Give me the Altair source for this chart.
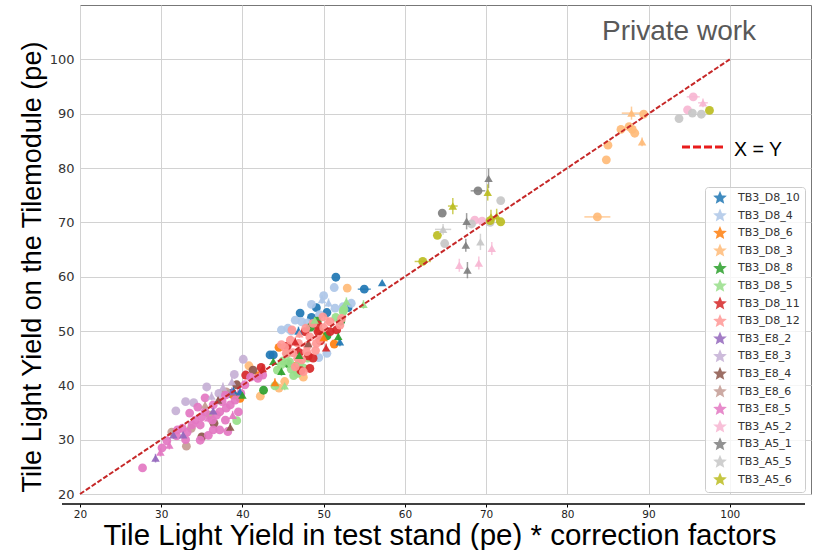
import altair as alt
import pandas as pd

SERIES = ["TB3_D8_10", "TB3_D8_4", "TB3_D8_6", "TB3_D8_3", "TB3_D8_8", "TB3_D8_5",
          "TB3_D8_11", "TB3_D8_12", "TB3_E8_2", "TB3_E8_3", "TB3_E8_4", "TB3_E8_6",
          "TB3_E8_5", "TB3_A5_2", "TB3_A5_1", "TB3_A5_5", "TB3_A5_6"]
COLORS = ["#1f77b4", "#aec7e8", "#ff7f0e", "#ffbb78", "#2ca02c", "#98df8a",
          "#d62728", "#ff9896", "#9467bd", "#c5b0d5", "#8c564b", "#c49c94",
          "#e377c2", "#f7b6d2", "#7f7f7f", "#c7c7c7", "#bcbd22"]

# (marker, x, y, xerr, yerr)
TB3_D8_10 = [("o", 51.5, 59.9, 0, 0), ("o", 55.0, 57.7, 0.8, 0), ("^", 57.2, 58.9, 0, 0),
             ("o", 49.1, 54.3, 0, 0), ("o", 47.1, 53.3, 0, 0), ("o", 50.4, 53.4, 0, 0),
             ("o", 53.0, 54.3, 0, 0), ("o", 52.1, 51.9, 0, 0), ("^", 52.0, 48.0, 0, 0.8),
             ("^", 46.9, 50.0, 0, 0.8), ("o", 43.8, 45.6, 0, 0), ("o", 38.5, 38.5, 0, 0),
             ("^", 39.7, 38.8, 0, 0.8), ("^", 38.9, 39.0, 0, 0.8), ("o", 43.4, 45.6, 0, 0),
             ("o", 48.5, 52.5, 0, 0)]
TB3_D8_4 = [("o", 51.3, 58.0, 0, 0), ("^", 50.6, 55.2, 0, 0.8), ("o", 48.5, 54.9, 0, 0),
            ("o", 52.4, 54.5, 0, 0), ("o", 53.4, 55.1, 0, 0), ("o", 51.4, 54.2, 0, 0),
            ("o", 47.3, 51.7, 0, 0), ("o", 44.8, 50.2, 0, 0), ("o", 45.6, 50.5, 0, 0),
            ("o", 49.4, 45.1, 0, 0), ("o", 50.4, 45.9, 0, 0), ("^", 49.8, 55.8, 0, 0.8),
            ("o", 46.0, 50.0, 0, 0), ("o", 48.0, 51.5, 0, 0), ("o", 49.5, 53.0, 0, 0),
            ("o", 46.5, 52.0, 0, 0), ("o", 50.0, 56.5, 0, 0)]
TB3_D8_6 = [("o", 44.5, 47.0, 0, 0), ("o", 51.3, 47.6, 0, 0), ("o", 49.5, 50.0, 0, 0),
            ("o", 39.7, 37.6, 0, 0), ("o", 38.9, 38.2, 0, 0), ("^", 50.0, 48.8, 0, 0.8),
            ("o", 46.5, 43.5, 0, 0), ("^", 44.0, 40.5, 0, 0.8), ("o", 42.0, 41.8, 0, 0)]
TB3_D8_3 = [("^", 87.9, 90.1, 1.2, 1.2), ("o", 89.4, 89.9, 0, 0), ("o", 86.6, 87.1, 0, 0),
            ("o", 87.6, 87.6, 0, 0), ("o", 88.0, 87.1, 0, 0), ("o", 88.3, 86.4, 0, 0),
            ("^", 89.2, 84.8, 0, 0.8), ("o", 85.0, 84.2, 0, 0), ("o", 84.8, 81.5, 0, 0),
            ("o", 83.7, 71.0, 1.6, 0), ("o", 52.9, 57.9, 0, 0), ("o", 45.2, 40.7, 0, 0),
            ("o", 40.8, 43.6, 0, 0), ("o", 42.2, 38.0, 0, 0), ("o", 44.5, 39.5, 0, 0),
            ("o", 47.5, 41.5, 0, 0)]
TB3_D8_8 = [("o", 50.4, 49.1, 0, 0), ("^", 43.8, 44.4, 0, 0.8), ("o", 42.6, 39.1, 0, 0),
            ("^", 40.0, 38.2, 0, 0.8), ("o", 52.1, 51.8, 0, 0), ("o", 49.2, 51.8, 0, 0),
            ("^", 47.0, 45.5, 0, 0.8), ("^", 51.8, 49.0, 0, 0.8), ("o", 45.6, 44.0, 0, 0),
            ("o", 48.4, 50.7, 0, 0), ("^", 44.8, 42.6, 0, 0.8)]
TB3_D8_5 = [("o", 52.4, 53.6, 0, 0), ("^", 52.8, 55.4, 0, 0.8), ("^", 54.9, 54.9, 0, 0.8),
            ("o", 45.0, 44.5, 0, 0), ("o", 46.0, 43.0, 0, 0), ("o", 47.0, 44.0, 0, 0),
            ("o", 44.3, 42.8, 0, 0), ("o", 45.5, 45.8, 0, 0), ("o", 46.8, 42.2, 0, 0),
            ("^", 45.2, 39.9, 0, 0.8), ("o", 39.3, 33.5, 0, 0), ("o", 44.0, 39.9, 0, 0),
            ("^", 48.9, 52.0, 0, 0.8), ("o", 51.5, 52.5, 0, 0), ("o", 45.8, 44.3, 0, 0),
            ("o", 44.8, 43.8, 0, 0), ("o", 47.5, 43.2, 0, 0), ("o", 46.3, 41.8, 0, 0),
            ("o", 52.5, 54.0, 0, 0), ("o", 48.0, 45.0, 0, 0)]
TB3_D8_11 = [("o", 47.7, 49.9, 0, 0), ("o", 48.7, 45.0, 0, 0), ("o", 48.3, 43.1, 0, 0),
             ("o", 47.2, 42.7, 0, 0), ("^", 46.5, 48.0, 0, 0.8), ("^", 50.3, 46.9, 0, 0.8),
             ("o", 51.6, 50.2, 0, 0), ("o", 50.8, 49.9, 0, 0), ("^", 42.5, 43.1, 0, 0.8),
             ("o", 40.4, 41.9, 0, 0), ("o", 48.1, 45.4, 0, 0), ("o", 49.3, 49.9, 0, 0),
             ("o", 49.3, 51.1, 0, 0), ("o", 42.3, 43.3, 0, 0), ("o", 45.5, 47.2, 0, 0),
             ("o", 49.6, 48.2, 0, 0), ("o", 47.0, 46.0, 0, 0)]
TB3_D8_12 = [("o", 45.9, 48.3, 0, 0), ("o", 46.9, 47.7, 0, 0), ("o", 47.9, 46.2, 0, 0),
             ("o", 47.3, 44.7, 0, 0), ("o", 46.5, 43.4, 0, 0), ("o", 48.7, 51.4, 0, 0),
             ("o", 49.9, 52.6, 0, 0), ("o", 50.8, 51.7, 0, 0), ("o", 52.0, 51.1, 0, 0),
             ("o", 52.2, 52.3, 0, 0), ("o", 49.1, 47.7, 0, 0), ("o", 46.1, 50.2, 0, 0),
             ("o", 48.3, 48.9, 0, 0), ("o", 45.4, 45.9, 0, 0), ("o", 47.5, 42.5, 0, 0),
             ("^", 47.0, 49.5, 0, 0.8), ("^", 50.5, 52.0, 0, 0.8), ("o", 44.8, 47.5, 0, 0),
             ("o", 46.2, 46.0, 0, 0), ("o", 48.0, 47.3, 0, 0), ("o", 49.5, 48.5, 0, 0),
             ("o", 45.2, 47.0, 0, 0), ("o", 47.8, 50.5, 0, 0), ("o", 50.0, 50.6, 0, 0),
             ("o", 46.8, 45.0, 0, 0), ("o", 49.0, 46.4, 0, 0)]
TB3_E8_2 = [("^", 29.3, 26.6, 0, 0.8), ("^", 31.5, 30.9, 0, 0.8), ("^", 32.7, 30.9, 0, 0.8),
            ("^", 36.4, 35.3, 0, 0.8), ("^", 38.7, 38.8, 0, 0.8)]
TB3_E8_3 = [("o", 31.8, 35.3, 0, 0), ("o", 34.0, 36.8, 0, 0), ("o", 35.6, 39.7, 0, 0),
            ("o", 37.1, 38.5, 0, 0), ("o", 40.1, 44.8, 0, 0), ("^", 37.6, 39.7, 0, 0.8),
            ("^", 38.7, 40.7, 0, 0.8), ("^", 36.2, 38.0, 0, 0.8), ("o", 39.0, 42.0, 0, 0),
            ("o", 33.0, 37.0, 0, 0)]
TB3_E8_4 = [("o", 35.0, 30.5, 0, 0), ("^", 38.5, 32.3, 0, 0.8), ("o", 41.3, 42.8, 0, 0),
            ("o", 39.3, 40.1, 0, 0), ("^", 48.1, 47.7, 0, 0.8), ("^", 37.0, 37.3, 0, 0.8),
            ("o", 36.5, 33.0, 0, 0)]
TB3_E8_6 = [("o", 33.1, 28.8, 0, 0), ("o", 33.7, 32.1, 0, 0), ("^", 35.4, 36.4, 0, 0.8),
            ("o", 38.0, 38.8, 0, 0), ("o", 31.3, 31.4, 0, 0), ("o", 36.0, 34.5, 0, 0)]
TB3_E8_5 = [("o", 27.7, 24.8, 0, 0), ("o", 30.1, 28.5, 0, 0), ("o", 30.7, 29.8, 0, 0),
            ("^", 29.9, 27.7, 0, 0.8), ("o", 31.9, 30.7, 0, 0), ("o", 33.2, 31.4, 0, 0),
            ("o", 34.2, 33.6, 0, 0), ("o", 34.8, 32.7, 0, 0), ("o", 35.4, 35.1, 0, 0),
            ("o", 36.4, 36.4, 0, 0), ("o", 37.2, 35.1, 0, 0), ("o", 37.9, 33.6, 0, 0),
            ("o", 36.4, 31.8, 0, 0), ("o", 34.8, 29.9, 0, 0), ("o", 38.5, 36.4, 0, 0),
            ("o", 39.1, 37.3, 0, 0), ("o", 39.5, 35.1, 0, 0), ("o", 36.3, 33.6, 0, 0),
            ("o", 37.9, 38.2, 0, 0), ("o", 35.4, 37.7, 0, 0), ("o", 33.5, 34.9, 0, 0),
            ("o", 32.6, 32.1, 0, 0), ("o", 33.8, 32.7, 0, 0), ("o", 37.2, 31.8, 0, 0),
            ("o", 42.5, 41.9, 0, 0), ("o", 41.9, 41.3, 0, 0), ("o", 40.3, 40.1, 0, 0),
            ("^", 38.8, 34.5, 0, 0.8), ("^", 35.8, 34.0, 0, 0.8), ("^", 31.0, 29.0, 0, 0.8),
            ("o", 35.0, 34.2, 0, 0), ("o", 36.8, 34.5, 0, 0), ("o", 38.0, 35.8, 0, 0),
            ("o", 34.5, 36.0, 0, 0), ("o", 32.0, 31.8, 0, 0), ("o", 33.0, 30.0, 0, 0),
            ("o", 37.5, 37.0, 0, 0), ("o", 39.8, 38.5, 0, 0), ("o", 41.0, 41.5, 0, 0),
            ("o", 38.2, 31.5, 0, 0), ("o", 35.8, 30.8, 0, 0)]
TB3_A5_2 = [("o", 95.5, 93.1, 0.8, 0), ("^", 96.7, 92.0, 0.6, 0.8), ("o", 94.8, 90.7, 0, 0),
            ("o", 68.6, 70.4, 0, 0), ("o", 69.5, 70.2, 0, 0), ("^", 70.7, 65.2, 0, 1.2),
            ("^", 66.7, 62.1, 0, 1.2), ("^", 69.1, 62.5, 0, 1.2)]
TB3_A5_1 = [("^", 70.3, 78.1, 0, 1.8), ("o", 69.0, 75.8, 0.9, 0), ("o", 64.6, 71.7, 0, 0),
            ("^", 67.6, 70.2, 0, 1.5), ("^", 67.5, 65.8, 0, 1.2), ("^", 67.7, 61.2, 0, 1.5)]
TB3_A5_5 = [("o", 95.4, 90.1, 0, 0), ("o", 96.5, 89.9, 0, 0), ("o", 93.75, 89.1, 0, 0),
            ("o", 71.8, 74.0, 0, 0), ("o", 68.2, 69.7, 0, 0), ("o", 70.5, 70.0, 0, 0),
            ("^", 64.7, 68.7, 1.0, 1.0), ("o", 64.9, 66.1, 0, 0), ("^", 69.3, 66.4, 0, 1.5)]
TB3_A5_6 = [("o", 97.5, 90.6, 0, 0), ("^", 70.2, 75.5, 0, 1.5), ("^", 65.9, 73.0, 0.6, 1.5),
            ("^", 70.6, 71.0, 0, 1.3), ("^", 71.3, 71.2, 0, 1.3), ("o", 70.5, 70.3, 0, 0),
            ("o", 71.8, 70.1, 0, 0), ("o", 64.0, 67.6, 0, 0), ("o", 62.2, 62.8, 1.0, 0)]

ALL = [TB3_D8_10, TB3_D8_4, TB3_D8_6, TB3_D8_3, TB3_D8_8, TB3_D8_5, TB3_D8_11, TB3_D8_12,
       TB3_E8_2, TB3_E8_3, TB3_E8_4, TB3_E8_6, TB3_E8_5, TB3_A5_2, TB3_A5_1, TB3_A5_5, TB3_A5_6]

TICKS = [20, 30, 40, 50, 60, 70, 80, 90, 100]
DIAG = [20, 100]

rows = []
for name, pts in zip(SERIES, ALL):
    for m, x, y, xe, ye in pts:
        rows.append(dict(series=name, m=m, x=x, y=y, xe=xe, ye=ye,
                         xlo=x - xe, xhi=x + xe, ylo=y - ye, yhi=y + ye))
df = pd.DataFrame(rows)

xs = alt.Scale(domain=[20, 110], nice=False, zero=False)
ys = alt.Scale(domain=[20, 110], nice=False, zero=False)
cs = alt.Scale(domain=SERIES, range=COLORS)

xaxis = alt.Axis(values=TICKS, offset=10, domain=False, tickSize=3, tickColor="black",
                 labelFont="DejaVu Sans", labelFontSize=10.5, labelColor="#222",
                 labelPadding=2, labelFlush=False, grid=True, gridColor="#d2d2d2", title=None)
yaxis = alt.Axis(values=TICKS, domain=False, ticks=False, tickSize=0, labelPadding=6,
                 labelFont="DejaVu Sans", labelFontSize=13, labelColor="#333",
                 labelFlush=False, grid=True, gridColor="#d2d2d2", title=None)

STAR = ("M0,-1L0.265,-0.364L0.951,-0.309L0.428,0.139L0.588,0.809L0,0.45"
        "L-0.588,0.809L-0.428,0.139L-0.951,-0.309L-0.265,-0.364Z")
legend = alt.Legend(orient="none", legendX=625, legendY=182, title=None,
                    symbolType=STAR, symbolSize=110, symbolOpacity=0.85,
                    labelFont="DejaVu Sans", labelFontSize=11, labelColor="#333",
                    rowPadding=0.6, padding=5, symbolOffset=4, labelOffset=12,
                    strokeColor="#cccccc", fillColor="rgba(255,255,255,0.8)",
                    cornerRadius=3)

color = alt.Color("series:N", scale=cs, legend=legend)
base = alt.Chart(df)

xerr = base.transform_filter("datum.xe > 0").mark_rule(strokeWidth=1.5, opacity=0.75).encode(
    x=alt.X("xlo:Q", scale=xs, axis=xaxis), x2="xhi:Q",
    y=alt.Y("y:Q", scale=ys, axis=yaxis), color=color)
yerr = base.transform_filter("datum.ye > 0").mark_rule(strokeWidth=1.5, opacity=0.75).encode(
    x=alt.X("x:Q", scale=xs, axis=xaxis),
    y=alt.Y("ylo:Q", scale=ys, axis=yaxis), y2="yhi:Q", color=color)
circles = base.transform_filter("datum.m == 'o'").mark_point(
    shape="circle", filled=True, size=78, opacity=0.92).encode(
    x=alt.X("x:Q", scale=xs, axis=xaxis), y=alt.Y("y:Q", scale=ys, axis=yaxis), color=color)
tris = base.transform_filter("datum.m == '^'").mark_point(
    shape="triangle-up", filled=True, size=72, opacity=0.92).encode(
    x=alt.X("x:Q", scale=xs, axis=xaxis), y=alt.Y("y:Q", scale=ys, axis=yaxis), color=color)

diag = alt.Chart(pd.DataFrame({"v": DIAG})).mark_line(
    color="#c62828", strokeWidth=2, strokeDash=[5, 2]).encode(
    x=alt.X("v:Q", scale=xs, axis=xaxis), y=alt.Y("v:Q", scale=ys, axis=yaxis))

one = pd.DataFrame({"t": [""]})
baseline_rule = alt.Chart(one).mark_rule(color="black", strokeWidth=1.5).encode(
    x=alt.value(-18), x2=alt.value(725), y=alt.value(499))
xy_line = alt.Chart(one).mark_rule(color="#e81c1c", strokeWidth=3, strokeDash=[8, 3]).encode(
    x=alt.value(602), x2=alt.value(646), y=alt.value(142))


def label(text, x, y, size, color="black", angle=0, align="left", baseline="alphabetic"):
    return alt.Chart(pd.DataFrame({"t": [text]})).mark_text(
        font="Liberation Sans", fontSize=size, color=color, angle=angle,
        align=align, baseline=baseline).encode(x=alt.value(x), y=alt.value(y), text="t:N")


texts = [
    label("Private work", 522, 35, 28, color="#595959"),
    label("X = Y", 654, 150.7, 19.5),
    label("Tile Light Yield in test stand (pe) * correction factors", 360, 540, 29.5, align="center"),
    label("Tile Light Yield on the Tilemodule (pe)", -47, 262, 27, angle=270,
          align="center", baseline="middle"),
]

chart = alt.layer(xerr, yerr, circles, tris, diag, baseline_rule, xy_line, *texts).properties(
    width=731, height=489,
    autosize=alt.AutoSizeParams(type="none"),
    padding={"left": 80, "top": 5, "right": 3, "bottom": 56},
).configure_view(stroke="#777777", strokeWidth=1)

chart.save("out.html", embed_options={"renderer": "svg", "actions": False})
